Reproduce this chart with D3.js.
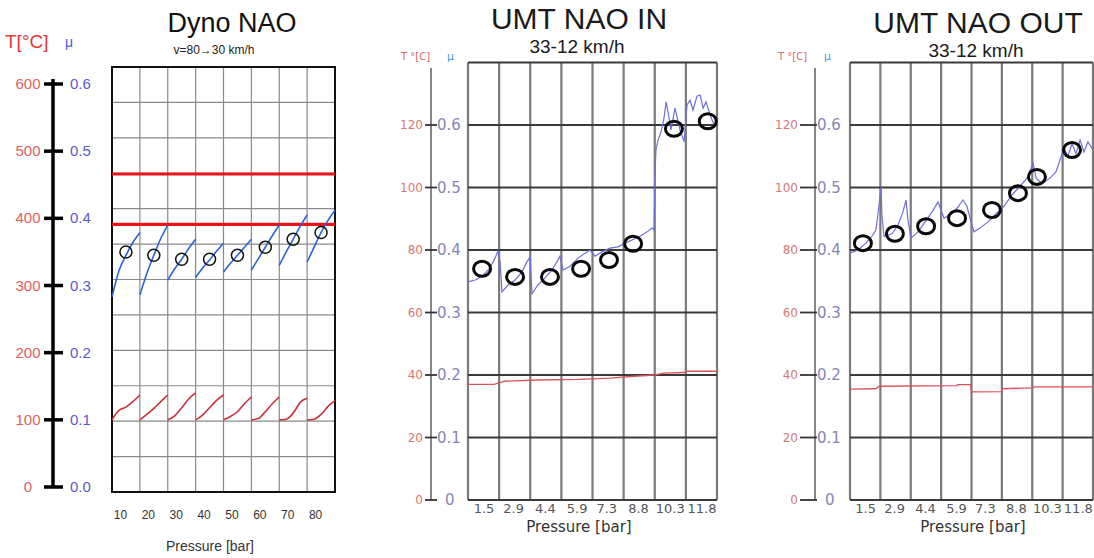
<!DOCTYPE html>
<html>
<head>
<meta charset="utf-8">
<script src="https://cdn.jsdelivr.net/npm/d3@7"></script>
<style>
  body { margin: 0; background: #fff; }
  svg { display: block; }
</style>
</head>
<body>
<svg id="chart" width="1094" height="558"></svg>
<script>

// ===== Dyno NAO (left panel) =====
var dynoPressure = [10, 20, 30, 40, 50, 60, 70, 80];
var dynoMu = [0.350, 0.345, 0.339, 0.339, 0.345, 0.357, 0.369, 0.379];
// each brake application is traced from p-5 to p+5 bar
var dynoRampOffset = [-5, -2.5, 0, 2.5, 5];
var dynoMuRamp = [
  [0.283, 0.322, 0.345, 0.364, 0.379],
  [0.286, 0.318, 0.345, 0.370, 0.390],
  [0.308, 0.325, 0.339, 0.355, 0.369],
  [0.312, 0.326, 0.338, 0.351, 0.363],
  [0.320, 0.333, 0.345, 0.357, 0.369],
  [0.323, 0.340, 0.357, 0.374, 0.390],
  [0.330, 0.350, 0.369, 0.388, 0.405],
  [0.335, 0.357, 0.379, 0.397, 0.412]
];
var dynoTempRamp = [
  [100, 114, 119, 127, 137],
  [100, 108, 117, 127, 137],
  [100, 106, 118, 131, 140],
  [100, 107, 118, 129, 137],
  [100, 105, 112, 124, 134],
  [100, 102, 112, 124, 134],
  [100, 101, 110, 126, 132],
  [100, 101, 108, 120, 129]
];
var dynoLimitMu = [0.466, 0.391];
var dynoTempTicks = [0, 100, 200, 300, 400, 500, 600];
var dynoMuTicks = [0, 0.1, 0.2, 0.3, 0.4, 0.5, 0.6];

// ===== UMT NAO (middle + right panels) =====
var umtTickLabels = ['1.5', '2.9', '4.4', '5.9', '7.3', '8.8', '10.3', '11.8'];
var umtTempTicks = [0, 20, 40, 60, 80, 100, 120];
var umtMuTicks = [0, 0.1, 0.2, 0.3, 0.4, 0.5, 0.6];

var inCircleP = [1.43, 2.99, 4.64, 6.11, 7.43, 8.57, 10.5, 12.1];
var inCircleMu = [0.370, 0.357, 0.357, 0.370, 0.384, 0.410, 0.594, 0.606];
var inTraceP = [0.76, 1.10, 1.43, 1.80, 2.04, 2.18, 2.28, 2.37, 2.66, 2.99, 3.32, 3.55, 3.70, 3.79,
  4.07, 4.40, 4.73, 4.97, 5.11, 5.26, 5.59, 5.97, 6.30, 6.53, 6.77, 7.10, 7.48, 7.86, 8.19, 8.52,
  8.90, 9.23, 9.46, 9.56, 9.61, 9.65, 9.75, 9.89, 10.03, 10.13, 10.22, 10.36, 10.55, 10.79, 10.98,
  11.12, 11.26, 11.40, 11.59, 11.74, 11.88, 12.02, 12.21, 12.40, 12.54];
var inTraceMu = [0.349, 0.352, 0.358, 0.371, 0.387, 0.398, 0.381, 0.333, 0.344, 0.352, 0.365, 0.381, 0.389, 0.330,
  0.344, 0.355, 0.368, 0.381, 0.390, 0.368, 0.374, 0.387, 0.395, 0.400, 0.390, 0.397, 0.403, 0.405, 0.411, 0.416,
  0.422, 0.429, 0.435, 0.432, 0.528, 0.560, 0.576, 0.589, 0.611, 0.637, 0.621, 0.592, 0.627, 0.592, 0.573,
  0.632, 0.640, 0.624, 0.646, 0.648, 0.627, 0.637, 0.616, 0.600, 0.605];
var inTempP = [0.76, 2.0, 2.5, 4.0, 6.0, 7.5, 8.6, 9.6, 10.0, 11.0, 11.1, 12.54];
var inTemp = [37.0, 37.0, 38.0, 38.4, 38.6, 39.0, 39.6, 40.0, 40.6, 40.8, 41.2, 41.2];

var outCircleP = [1.39, 2.94, 4.45, 5.95, 7.64, 8.90, 9.82, 11.52];
var outCircleMu = [0.411, 0.426, 0.438, 0.451, 0.464, 0.491, 0.517, 0.560];
var outTraceP = [0.76, 1.15, 1.54, 1.83, 2.02, 2.17, 2.27, 2.31, 2.41, 2.80, 3.09, 3.33, 3.48, 3.57,
  3.72, 4.06, 4.40, 4.74, 5.03, 5.17, 5.32, 5.71, 6.00, 6.24, 6.43, 6.63, 6.77, 7.06, 7.45, 7.84,
  8.22, 8.61, 9.00, 9.34, 9.63, 9.78, 10.07, 10.45, 10.74, 10.94, 11.13, 11.32, 11.52, 11.71,
  11.91, 12.10, 12.29, 12.54];
var outTraceMu = [0.395, 0.400, 0.411, 0.422, 0.432, 0.472, 0.501, 0.456, 0.422, 0.426, 0.440, 0.461, 0.480, 0.448,
  0.419, 0.429, 0.445, 0.461, 0.477, 0.464, 0.451, 0.458, 0.469, 0.480, 0.470, 0.445, 0.429, 0.435, 0.445, 0.458,
  0.470, 0.488, 0.502, 0.515, 0.539, 0.515, 0.506, 0.515, 0.525, 0.544, 0.563, 0.550, 0.570, 0.554,
  0.576, 0.557, 0.573, 0.560];
var outTempP = [0.76, 2.0, 2.2, 5.9, 6.0, 6.6, 6.65, 8.1, 8.15, 9.6, 9.7, 12.54];
var outTemp = [35.5, 35.6, 36.4, 36.6, 36.9, 36.9, 34.6, 34.7, 35.6, 35.9, 36.2, 36.2];


var svg = d3.select('#chart');

function drawDyno() {
  var box = { x0: 112, x1: 335, y0: 67, y1: 492 };
  var g = svg.append('g');

  var x = d3.scaleLinear().domain([5, 85]).range([box.x0, box.x1]);
  var mu = d3.scaleLinear().domain([0, 0.6]).range([487, 84]);
  var temp = d3.scaleLinear().domain([0, 600]).range([487, 84]);
  var rows = d3.scaleLinear().domain([0, 12]).range([box.y1, box.y0]);

  // titles
  g.append('text').attr('x', 232).attr('y', 32).attr('text-anchor', 'middle')
    .style('font', '27px "Liberation Sans", Arial, sans-serif').style('fill', '#111')
    .text('Dyno NAO');
  g.append('text').attr('x', 214).attr('y', 54).attr('text-anchor', 'middle')
    .style('font', '12px "Liberation Sans", Arial, sans-serif').style('fill', '#222')
    .text('v=80\u219230 km/h');
  g.append('text').attr('x', 5).attr('y', 48)
    .style('font', '19px "Liberation Sans", Arial, sans-serif').style('fill', '#e03a3a')
    .text('T[\u00b0C]');
  g.append('text').attr('x', 65).attr('y', 47)
    .style('font', '14px "Liberation Sans", Arial, sans-serif').style('fill', '#4a5ed6')
    .text('\u03bc');

  // grid
  g.selectAll('.vgrid').data(d3.range(15, 85, 10)).join('line')
    .attr('x1', function (d) { return x(d); }).attr('x2', function (d) { return x(d); })
    .attr('y1', box.y0).attr('y2', box.y1)
    .style('stroke', '#8a8a8a').style('stroke-width', 1.2);
  g.selectAll('.hgrid').data(d3.range(1, 12)).join('line')
    .attr('x1', box.x0).attr('x2', box.x1)
    .attr('y1', function (d) { return rows(d); }).attr('y2', function (d) { return rows(d); })
    .style('stroke', '#8a8a8a').style('stroke-width', 1.2);
  g.append('rect').attr('x', box.x0).attr('y', box.y0)
    .attr('width', box.x1 - box.x0).attr('height', box.y1 - box.y0)
    .style('fill', 'none').style('stroke', '#111').style('stroke-width', 2);

  // limit band
  g.selectAll('.limit').data(dynoLimitMu).join('line')
    .attr('x1', box.x0).attr('x2', box.x1)
    .attr('y1', function (d) { return mu(d); }).attr('y2', function (d) { return mu(d); })
    .style('stroke', '#e8141c').style('stroke-width', 3.2);

  // left axis
  var ax = 53;
  g.append('line').attr('x1', ax).attr('x2', ax)
    .attr('y1', mu(0.6) - 5).attr('y2', mu(0))
    .style('stroke', '#000').style('stroke-width', 3.5);
  g.selectAll('.tick').data(dynoMuTicks).join('line')
    .attr('x1', ax - 9).attr('x2', ax + 10)
    .attr('y1', function (d) { return mu(d); }).attr('y2', function (d) { return mu(d); })
    .style('stroke', '#000').style('stroke-width', 3.5);
  g.selectAll('.tlab').data(dynoTempTicks).join('text')
    .attr('x', 28).attr('y', function (d) { return temp(d) + 5; })
    .attr('text-anchor', 'middle')
    .style('font', '15px "Liberation Sans", Arial, sans-serif').style('fill', '#e0605e')
    .text(function (d) { return d; });
  g.selectAll('.mlab').data(dynoMuTicks).join('text')
    .attr('x', 70).attr('y', function (d) { return mu(d) + 5; })
    .style('font', '15px "Liberation Sans", Arial, sans-serif').style('fill', '#5a5ac8')
    .text(d3.format('.1f'));

  // x axis labels
  var xAxis = d3.axisBottom(x).tickValues(dynoPressure).tickSize(0).tickPadding(0);
  var xg = g.append('g').attr('transform', 'translate(-6,' + 510 + ')').call(xAxis);
  xg.select('.domain').remove();
  xg.selectAll('text').style('font', '12px "Liberation Sans", Arial, sans-serif').style('fill', '#333');
  g.append('text').attr('x', 210).attr('y', 551).attr('text-anchor', 'middle')
    .style('font', '14px "Liberation Sans", Arial, sans-serif').style('fill', '#333')
    .text('Pressure [bar]');

  // ramps
  var line = d3.line().curve(d3.curveMonotoneX);
  dynoPressure.forEach(function (p, i) {
    g.append('path')
      .attr('d', line(dynoRampOffset.map(function (o, k) { return [x(p + o), temp(dynoTempRamp[i][k])]; })))
      .style('fill', 'none').style('stroke', '#c8323f').style('stroke-width', 1.6);
    g.append('path')
      .attr('d', line(dynoRampOffset.map(function (o, k) { return [x(p + o), mu(dynoMuRamp[i][k])]; })))
      .style('fill', 'none').style('stroke', '#2f62d4').style('stroke-width', 1.6);
  });

  g.selectAll('.avg').data(dynoPressure).join('circle')
    .attr('cx', function (d) { return x(d); })
    .attr('cy', function (d, i) { return mu(dynoMu[i]); })
    .attr('r', 6)
    .style('fill', 'none').style('stroke', '#111').style('stroke-width', 1.5);
}

function drawUmt(cfg, data) {
  var g = svg.append('g');
  var first = +umtTickLabels[0], last = +umtTickLabels[umtTickLabels.length - 1];
  var step = (last - first) / (umtTickLabels.length - 1);
  var x = d3.scaleLinear().domain([first - step / 2, last + step / 2]).range([cfg.x0, cfg.x1]);
  var mu = d3.scaleLinear().domain([0, 0.7]).range([cfg.y1, cfg.y0]);
  var temp = d3.scaleLinear().domain([0, 140]).range([cfg.y1, cfg.y0]);

  // titles
  g.append('text').attr('x', cfg.titleX).attr('y', cfg.titleY).attr('text-anchor', 'middle')
    .style('font', '30px "Liberation Sans", Arial, sans-serif').style('fill', '#1a1a1a')
    .text(cfg.title);
  g.append('text').attr('x', cfg.titleX - 2).attr('y', cfg.titleY + 24).attr('text-anchor', 'middle')
    .style('font', '19px "Liberation Sans", Arial, sans-serif').style('fill', '#1a1a1a')
    .text('33-12 km/h');
  g.append('text').attr('x', cfg.unitX).attr('y', 60)
    .style('font', '10px "DejaVu Sans", Verdana, sans-serif').style('fill', '#d86a6a')
    .text('T \u00b0[C]');
  g.append('text').attr('x', cfg.unitX + 46).attr('y', 60)
    .style('font', '11px "DejaVu Sans", Verdana, sans-serif').style('fill', '#4a9ad0')
    .text('\u03bc');

  // grid
  var cols = d3.range(0, umtTickLabels.length + 1).map(function (k) { return first - step / 2 + k * step; });
  g.selectAll('.vgrid').data(cols).join('line')
    .attr('x1', function (d) { return x(d); }).attr('x2', function (d) { return x(d); })
    .attr('y1', cfg.y0).attr('y2', cfg.y1)
    .style('stroke', '#7a7a7a').style('stroke-width', 2.2);
  g.selectAll('.hgrid').data(umtMuTicks.concat([0.7])).join('line')
    .attr('x1', cfg.x0).attr('x2', cfg.x1)
    .attr('y1', function (d) { return mu(d); }).attr('y2', function (d) { return mu(d); })
    .style('stroke', '#3a3a3a').style('stroke-width', 1.8);

  // dual axis
  g.append('line').attr('x1', cfg.axisX).attr('x2', cfg.axisX)
    .attr('y1', 68).attr('y2', cfg.y1)
    .style('stroke', '#6a6a6a').style('stroke-width', 1.6);
  g.selectAll('.tick').data(umtMuTicks).join('line')
    .attr('x1', cfg.axisX + cfg.dash[0]).attr('x2', cfg.axisX + cfg.dash[1])
    .attr('y1', function (d) { return mu(d); }).attr('y2', function (d) { return mu(d); })
    .style('stroke', '#333').style('stroke-width', 1.8);
  g.selectAll('.tlab').data(umtTempTicks).join('text')
    .attr('x', cfg.axisX + cfg.dash[0] - 2).attr('y', function (d) { return temp(d) + 4; })
    .attr('text-anchor', 'end')
    .style('font', '12px "DejaVu Sans", Verdana, sans-serif').style('fill', '#d87878')
    .text(function (d) { return d; });
  g.selectAll('.mlab').data(umtMuTicks).join('text')
    .attr('x', function (d) { return cfg.axisX + cfg.dash[1] + (d === 0 ? 8 : 0); })
    .attr('y', function (d) { return mu(d) + 5; })
    .style('font', '15px "DejaVu Sans", Verdana, sans-serif').style('fill', '#8585b5')
    .text(function (d) { return d === 0 ? '0' : d3.format('.1f')(d); });

  // x axis
  var xAxis = d3.axisBottom(x).tickValues(umtTickLabels.map(Number))
    .tickFormat(function (d, i) { return umtTickLabels[i]; }).tickSize(0).tickPadding(0);
  var xg = g.append('g').attr('transform', 'translate(0,' + (cfg.y1 + 4) + ')').call(xAxis);
  xg.select('.domain').remove();
  xg.selectAll('text').style('font', '13px "DejaVu Sans", Verdana, sans-serif').style('fill', '#555');
  g.append('text').attr('x', cfg.labelX).attr('y', 532).attr('text-anchor', 'middle')
    .style('font', '15px "DejaVu Sans", Verdana, sans-serif').style('fill', '#333')
    .text('Pressure [bar]');

  // traces
  var line = d3.line();
  g.append('path')
    .attr('d', line(data.tempP.map(function (p, i) { return [x(p), temp(data.temp[i])]; })))
    .style('fill', 'none').style('stroke', '#d9535a').style('stroke-width', 1.3);
  g.append('path')
    .attr('d', line(data.traceP.map(function (p, i) { return [x(p), mu(data.traceMu[i])]; })))
    .style('fill', 'none').style('stroke', '#6f6fd8').style('stroke-width', 1.2);

  g.selectAll('.avg').data(data.circleP).join('ellipse')
    .attr('cx', function (d) { return x(d); })
    .attr('cy', function (d, i) { return mu(data.circleMu[i]); })
    .attr('rx', 8.5).attr('ry', 7.5)
    .style('fill', 'none').style('stroke', '#0a0a0a').style('stroke-width', 3);
}

drawDyno();
drawUmt(
  { x0: 468, x1: 717, y0: 62.5, y1: 500, axisX: 431, dash: [-6, 6], title: 'UMT NAO IN',
    titleX: 579, titleY: 29, unitX: 401, labelX: 579 },
  { circleP: inCircleP, circleMu: inCircleMu, traceP: inTraceP, traceMu: inTraceMu, tempP: inTempP, temp: inTemp }
);
drawUmt(
  { x0: 850, x1: 1093, y0: 62.5, y1: 500, axisX: 815, dash: [-15, 2], title: 'UMT NAO OUT',
    titleX: 978, titleY: 33, unitX: 778, labelX: 973 },
  { circleP: outCircleP, circleMu: outCircleMu, traceP: outTraceP, traceMu: outTraceMu, tempP: outTempP, temp: outTemp }
);

</script>
</body>
</html>
